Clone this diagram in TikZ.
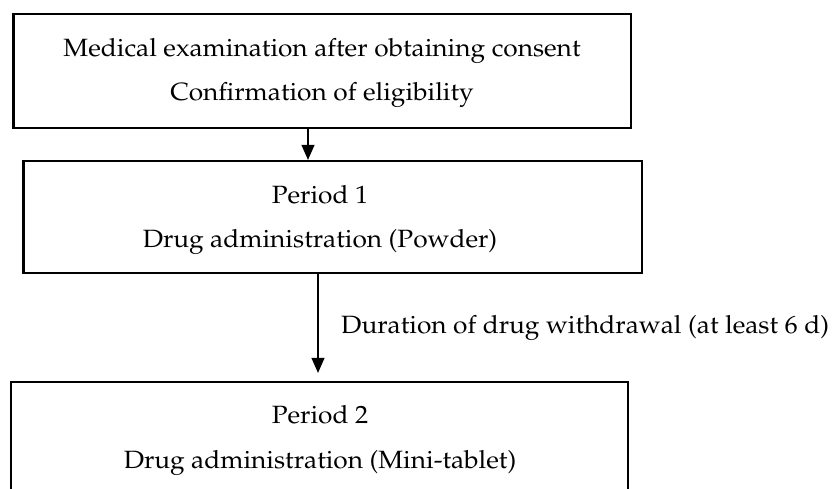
\documentclass[tikz,border=0pt]{standalone}
\usepackage[T1]{fontenc}
\usepackage{mathpazo}
\usepackage{graphicx}
\usetikzlibrary{arrows.meta}
\newcommand{\widetxt}[1]{\scalebox{1.05}[1]{#1}}
\begin{document}
\begin{tikzpicture}[x=1pt,y=1pt,
  box/.style={draw, line width=2.2pt, inner sep=0pt},
  txt/.style={anchor=base, inner sep=0pt, font=\fontsize{25}{30}\selectfont},
  conn/.style={line width=1.1pt, -{Triangle[width=13pt,length=15pt]}}]
\clip (0,0) rectangle (833,-489);
\fill[white] (0,0) rectangle (833,-489);
% boxes
\node[box, minimum width=617.5pt, minimum height=114pt] (b1) at (322.25,-71) {};
\node[box, minimum width=618.5pt, minimum height=112pt] (b2) at (332.75,-217) {};
\node[box, minimum width=617pt, minimum height=200pt] (b3) at (319.5,-482) {};
% texts
\node[txt] (t1a) at (322,-57) {\widetxt{Medical examination after obtaining consent}};
\node[txt] (t1b) at (322,-101) {\widetxt{Confirmation of eligibility}};
\node[txt] (t2a) at (320,-204) {\widetxt{Period 1}};
\node[txt] (t2b) at (320,-248) {\widetxt{Drug administration (Powder)}};
\node[txt] (t3a) at (320,-423) {\widetxt{Period 2}};
\node[txt] (t3b) at (320,-468) {\widetxt{Drug administration (Mini-tablet)}};
% connectors
\coordinate (a1) at (308,0);
\coordinate (a2) at (318,0);
\draw[conn] (b1.south -| a1) -- (b2.north -| a1);
\draw[conn, shorten >=8pt] (b2.south -| a2) -- (b3.north -| a2);
\node[txt, anchor=base west] (lbl) at (341,-334) {\widetxt{Duration of drug withdrawal (at least 6 d)}};
\end{tikzpicture}
\end{document}
